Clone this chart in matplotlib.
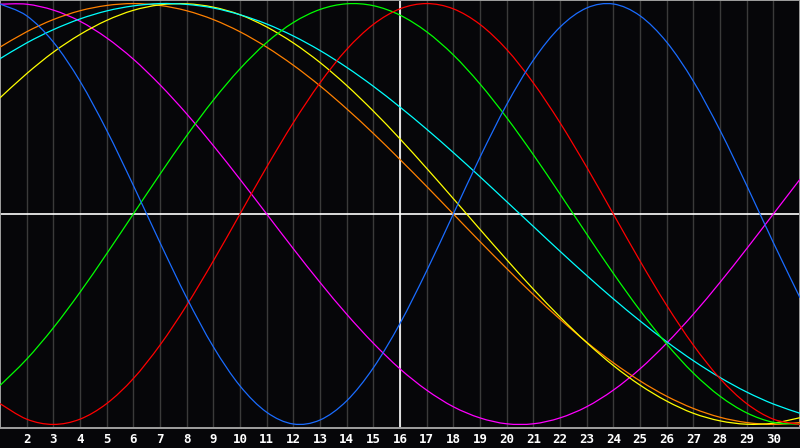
import matplotlib
matplotlib.use("Agg")
import matplotlib.pyplot as plt
from matplotlib.path import Path
from matplotlib.patches import PathPatch

# jours du mois (axe horizontal)
days = list(range(1, 32))
day_labels = list(range(2, 31))

# valeurs, une par jour (-1 .. 1)
physique = [0.998, 0.942, 0.817, 0.631, 0.398, 0.136, -0.136, -0.398, -0.631, -0.817,
            -0.942, -0.998, -0.979, -0.888, -0.731, -0.520, -0.270, 0.0, 0.270, 0.520,
            0.731, 0.888, 0.979, 0.998, 0.942, 0.817, 0.631, 0.398, 0.136, -0.136, -0.398]
emotionnel = [-0.901, -0.975, -1.0, -0.975, -0.901, -0.782, -0.623, -0.434, -0.223, 0.0,
              0.223, 0.434, 0.623, 0.782, 0.901, 0.975, 1.0, 0.975, 0.901, 0.782,
              0.623, 0.434, 0.223, 0.0, -0.223, -0.434, -0.623, -0.782, -0.901, -0.975, -1.0]
intellectuel = [-0.815, -0.690, -0.541, -0.372, -0.189, 0.0, 0.189, 0.372, 0.541, 0.690,
                0.815, 0.910, 0.972, 0.999, 0.990, 0.945, 0.866, 0.756, 0.618, 0.458,
                0.282, 0.095, -0.095, -0.282, -0.458, -0.618, -0.756, -0.866, -0.945, -0.990, -0.999]
intuitif = [0.997, 0.997, 0.969, 0.916, 0.837, 0.736, 0.614, 0.476, 0.325, 0.165,
            0.0, -0.165, -0.325, -0.476, -0.614, -0.736, -0.837, -0.916, -0.969, -0.997,
            -0.997, -0.969, -0.916, -0.837, -0.736, -0.614, -0.476, -0.325, -0.165, 0.0, 0.165]
esthetique = [0.552, 0.667, 0.769, 0.853, 0.920, 0.968, 0.994, 0.999, 0.983, 0.947,
              0.889, 0.813, 0.720, 0.611, 0.489, 0.357, 0.217, 0.073, -0.073, -0.217,
              -0.357, -0.489, -0.611, -0.720, -0.813, -0.889, -0.947, -0.983, -0.999, -0.994, -0.968]
conscience = [0.793, 0.866, 0.924, 0.966, 0.991, 1.0, 0.991, 0.966, 0.924, 0.866,
              0.793, 0.707, 0.609, 0.5, 0.383, 0.259, 0.131, 0.0, -0.131, -0.259,
              -0.383, -0.5, -0.609, -0.707, -0.793, -0.866, -0.924, -0.966, -0.991, -1.0, -0.991]
spirituel = [0.738, 0.813, 0.876, 0.927, 0.965, 0.989, 1.0, 0.996, 0.979, 0.947,
             0.903, 0.846, 0.777, 0.697, 0.607, 0.508, 0.403, 0.292, 0.177, 0.059,
             -0.059, -0.177, -0.292, -0.403, -0.508, -0.607, -0.697, -0.777, -0.846, -0.903, -0.947]

series = [
    (intuitif, "#ff00ff"),
    (conscience, "#ff8000"),
    (esthetique, "#ffff00"),
    (spirituel, "#00ffff"),
    (intellectuel, "#00ff00"),
    (emotionnel, "#ff0000"),
    (physique, "#1a6cff"),
]

fond = "#060609"


def courbe_lisse(xs, ys):
    """Chemin de Bezier (Catmull-Rom) passant par les points du jour"""
    verts = [(xs[0], ys[0])]
    codes = [Path.MOVETO]
    n = len(xs)
    for i in range(n - 1):
        x0, y0 = xs[max(i - 1, 0)], ys[max(i - 1, 0)]
        x1, y1 = xs[i], ys[i]
        x2, y2 = xs[i + 1], ys[i + 1]
        x3, y3 = xs[min(i + 2, n - 1)], ys[min(i + 2, n - 1)]
        c1 = (x1 + (x2 - x0) / 6, y1 + (y2 - y0) / 6)
        c2 = (x2 - (x3 - x1) / 6, y2 - (y3 - y1) / 6)
        verts += [c1, c2, (x2, y2)]
        codes += [Path.CURVE4] * 3
    return Path(verts, codes)


fig = plt.figure(figsize=(8, 4.48), dpi=100, facecolor=fond)
ax = fig.add_axes([0, 20 / 448, 1, 428 / 448])
ax.set_facecolor(fond)

ax.set_xlim(1, 31)
ax.set_ylim(-1.017, 1.017)

# grille verticale, un trait par jour
for d in days[1:-1]:
    ax.axvline(d, color="#3a3a3a", lw=1.0, zorder=1)

ax.axhline(0, color="white", lw=1.2, zorder=2)
ax.axvline(16, color="white", lw=1.2, zorder=2)

for valeurs, couleur in series:
    ax.add_patch(PathPatch(courbe_lisse(days, valeurs), facecolor="none",
                           edgecolor=couleur, lw=0.9, zorder=3))

for s in ax.spines.values():
    s.set_color("#a0a0a0")
    s.set_linewidth(1.4)

ax.set_xticks([])
ax.set_yticks([])

# etiquettes des jours sous le graphique
for d in day_labels:
    fig.text((d - 1) / 30, 8.5 / 448, str(d), color="white", fontsize=9,
             fontweight="bold", family="DejaVu Sans Mono", ha="center", va="center")

fig.savefig("out.png", dpi=100, facecolor=fond)
